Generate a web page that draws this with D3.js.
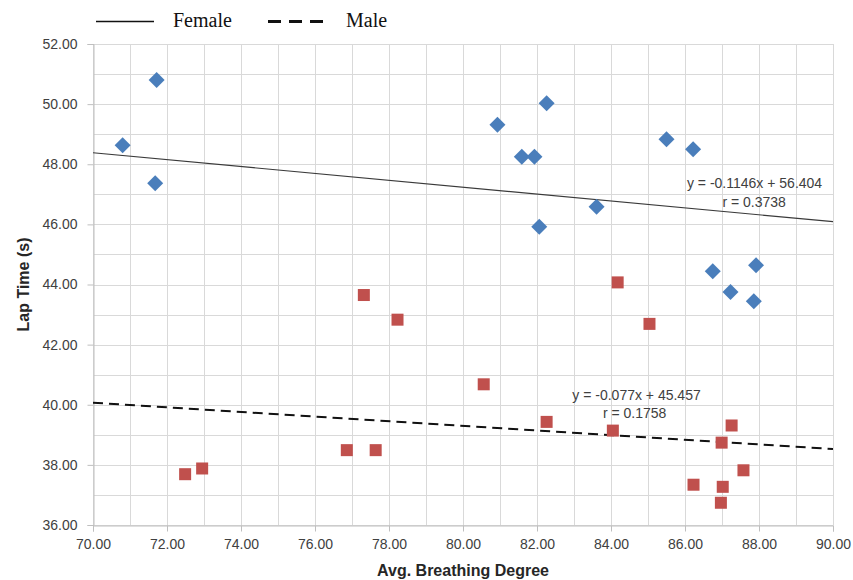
<!DOCTYPE html>
<html>
<head>
<meta charset="utf-8">
<script src="https://cdn.jsdelivr.net/npm/d3@7"></script>
<style>
  html, body { margin: 0; padding: 0; background: #ffffff; }
  svg { display: block; }
</style>
</head>
<body>
<svg id="chart" width="853" height="580"></svg>
<script>
// ---------- data ----------
const femaleX = [70.80, 71.72, 71.68, 80.93, 81.59, 81.93, 82.26, 82.06, 83.61, 85.50, 86.22, 86.75, 87.92, 87.23, 87.86];
const femaleY = [48.63, 50.80, 47.37, 49.31, 48.25, 48.25, 50.03, 45.92, 46.59, 48.83, 48.50, 44.44, 44.64, 43.75, 43.44];
const maleX = [72.49, 72.95, 76.86, 77.64, 77.32, 78.23, 80.56, 82.26, 84.05, 84.18, 85.04, 86.23, 86.97, 86.99, 87.02, 87.26, 87.58];
const maleY = [37.69, 37.88, 38.49, 38.49, 43.65, 42.83, 40.68, 39.43, 39.14, 44.07, 42.69, 37.34, 36.74, 38.74, 37.27, 39.31, 37.82];
const femaleTrend = { slope: -0.1146, intercept: 56.404, r: 0.3738 };
const maleTrend = { slope: -0.077, intercept: 45.457, r: 0.1758 };
const xDomain = [70, 90];
const yDomain = [36, 52];
const xTickValues = [70, 72, 74, 76, 78, 80, 82, 84, 86, 88, 90];
const yTickValues = [36, 38, 40, 42, 44, 46, 48, 50, 52];
const xLabel = "Avg. Breathing Degree";
const yLabel = "Lap Time (s)";
const legendLabels = ["Female", "Male"];

// ---------- layout ----------
const W = 853, H = 580;
const margin = { left: 93, right: 20, top: 44, bottom: 55 };
const svg = d3.select("#chart");

const x = d3.scaleLinear().domain(xDomain).range([margin.left, W - margin.right]);
const y = d3.scaleLinear().domain(yDomain).range([H - margin.bottom, margin.top]);

const gridColor = "#d9d9d9";
const sans = "'Liberation Sans', Arial, sans-serif";

// grid lines (every 1 unit)
const grid = svg.append("g");
grid.selectAll("line.v").data(d3.range(xDomain[0], xDomain[1] + 0.001, 1)).enter()
  .append("line")
  .attr("x1", d => Math.round(x(d)) + 0.5).attr("x2", d => Math.round(x(d)) + 0.5)
  .attr("y1", y(yDomain[0])).attr("y2", y(yDomain[1]))
  .attr("stroke", gridColor).attr("stroke-width", 1);
grid.selectAll("line.h").data(d3.range(yDomain[0], yDomain[1] + 0.001, 1)).enter()
  .append("line")
  .attr("y1", d => Math.round(y(d)) + 0.5).attr("y2", d => Math.round(y(d)) + 0.5)
  .attr("x1", x(xDomain[0])).attr("x2", x(xDomain[1]))
  .attr("stroke", gridColor).attr("stroke-width", 1);

// axes
const xAxis = d3.axisBottom(x).tickValues(xTickValues).tickFormat(d => d.toFixed(2)).tickSize(6).tickPadding(8);
const yAxis = d3.axisLeft(y).tickValues(yTickValues).tickFormat(d => d.toFixed(2)).tickSize(6).tickPadding(10);

const gx = svg.append("g").attr("transform", `translate(0,${Math.round(y(yDomain[0])) + 0.5})`).call(xAxis);
const gy = svg.append("g").attr("transform", `translate(${Math.round(x(xDomain[0])) + 0.5},0)`).call(yAxis);
[gx, gy].forEach(g => {
  g.select(".domain").attr("stroke", "#bfbfbf");
  g.selectAll(".tick line").attr("stroke", "#bfbfbf");
  g.selectAll(".tick text").attr("fill", "#404040").style("font-family", sans).style("font-size", "14px");
});

// trend lines
function trendLine(t, dash, width, color) {
  const pts = xDomain.map(v => [x(v), y(t.slope * v + t.intercept)]);
  svg.append("path")
    .attr("d", d3.line()(pts))
    .attr("fill", "none")
    .attr("stroke", color)
    .attr("stroke-width", width)
    .attr("stroke-dasharray", dash);
}
trendLine(femaleTrend, null, 1.2, "#3a3a3a");
trendLine(maleTrend, "10,6", 2, "#111111");

// points: female diamonds
const diamond = s => `M0,${-s}L${s},0L0,${s}L${-s},0Z`;
svg.append("g").selectAll("path").data(femaleX.map((v, i) => [v, femaleY[i]])).enter()
  .append("path")
  .attr("d", diamond(8))
  .attr("transform", d => `translate(${x(d[0])},${y(d[1])})`)
  .attr("fill", "#4A7EBB");

// points: male squares
const sq = 12;
svg.append("g").selectAll("rect").data(maleX.map((v, i) => [v, maleY[i]])).enter()
  .append("rect")
  .attr("x", d => x(d[0]) - sq / 2).attr("y", d => y(d[1]) - sq / 2)
  .attr("width", sq).attr("height", sq)
  .attr("fill", "#C0504D");

// trend equation labels
function fmtEq(t) {
  return `y = ${t.slope}x + ${t.intercept}`;
}
const eqStyle = sel => sel.attr("fill", "#404040").style("font-family", sans).style("font-size", "14px").attr("text-anchor", "middle");
svg.append("text").attr("x", x(87.88)).attr("y", y(47.21)).text(fmtEq(femaleTrend)).call(eqStyle);
svg.append("text").attr("x", x(87.87)).attr("y", y(46.58)).text(`r = ${femaleTrend.r}`).call(eqStyle);
svg.append("text").attr("x", x(84.69)).attr("y", y(40.16)).text(fmtEq(maleTrend)).call(eqStyle);
svg.append("text").attr("x", x(84.64)).attr("y", y(39.56)).text(`r = ${maleTrend.r}`).call(eqStyle);

// axis titles
svg.append("text")
  .attr("x", (x(xDomain[0]) + x(xDomain[1])) / 2)
  .attr("y", 576)
  .attr("text-anchor", "middle")
  .attr("fill", "#262626")
  .style("font-family", sans).style("font-size", "16px").style("font-weight", "bold")
  .text(xLabel);
svg.append("text")
  .attr("transform", `translate(29,${(y(yDomain[0]) + y(yDomain[1])) / 2}) rotate(-90)`)
  .attr("text-anchor", "middle")
  .attr("fill", "#262626")
  .style("font-family", sans).style("font-size", "16px").style("font-weight", "bold")
  .text(yLabel);

// legend
const serif = "'Liberation Serif', 'Times New Roman', serif";
const lg = svg.append("g");
lg.append("line").attr("x1", 96).attr("x2", 154).attr("y1", 21.5).attr("y2", 21.5)
  .attr("stroke", "#111").attr("stroke-width", 1.6);
lg.append("text").attr("x", 173).attr("y", 27).text(legendLabels[0])
  .attr("fill", "#111").style("font-family", serif).style("font-size", "20px");
lg.append("line").attr("x1", 268).attr("x2", 326).attr("y1", 21.5).attr("y2", 21.5)
  .attr("stroke", "#111").attr("stroke-width", 3).attr("stroke-dasharray", "13,8");
lg.append("text").attr("x", 346).attr("y", 27).text(legendLabels[1])
  .attr("fill", "#111").style("font-family", serif).style("font-size", "20px");
</script>
</body>
</html>
